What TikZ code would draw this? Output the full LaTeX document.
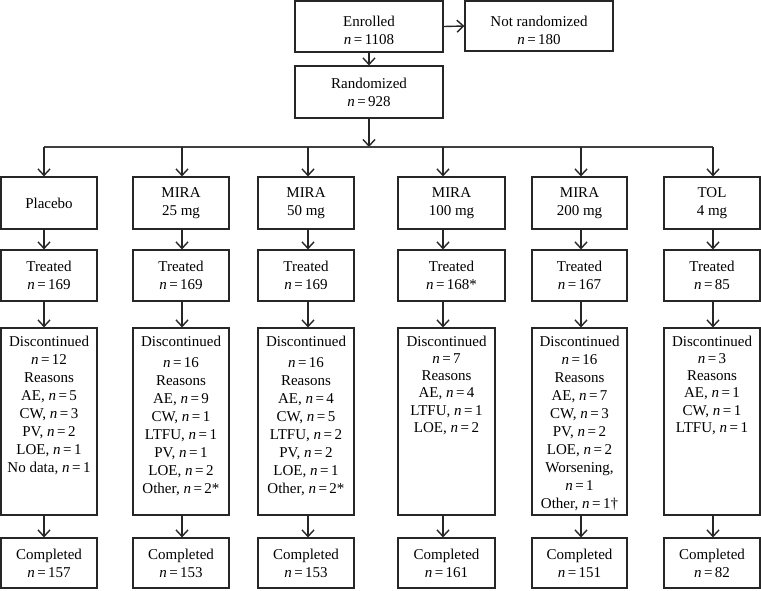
\documentclass[tikz,border=0pt]{standalone}
\usepackage{fontspec}
\setmainfont{Liberation Serif}
\usetikzlibrary{arrows.meta}
\newcommand{\nn}{\textit{n}\,=\,}
\begin{document}
\begin{tikzpicture}[x=1pt,y=-1pt,
  box/.style={draw=black!85, line width=1.1pt, inner sep=0pt, align=center,
    font=\fontsize{15}{18}\selectfont},
  txt/.style={inner sep=0pt, align=center, anchor=north},
  arr/.style={draw=black!85, line width=1.4pt, -{Straight Barb[length=6.5pt,width=12pt,line width=1.4pt]}},
  ln/.style={draw=black!75, line width=1.4pt}]
\useasboundingbox (0,0) rectangle (761,590);

% top
\node[box, minimum width=148pt, minimum height=51pt] (enr) at (369,26.5) {};
\node[box, minimum width=148pt, minimum height=50pt] (notr) at (539,26) {};
\node[txt, anchor=center, font=\fontsize{15}{18}\selectfont] (enrt) at ([yshift=-4pt]enr.center) {Enrolled\\\nn 1108};
\node[txt, anchor=center, font=\fontsize{15}{18}\selectfont] (notrt) at ([yshift=-4pt]notr.center) {Not randomized\\\nn 180};
\node[box, minimum width=148pt, minimum height=52pt] (rand) at (369,92) {Randomized\\\nn 928};
\draw[arr] (enr.east) -- (notr.west);
\draw[arr] (enr.south) -- (rand.north);

% column coordinates
\coordinate (cP) at (44,147);
\coordinate (c25) at (182,147);
\coordinate (c50) at (308,147);
\coordinate (c100) at (443,147);
\coordinate (c200) at (581,147);
\coordinate (cT) at (713,147);
\coordinate (hl) at (369,147);

\draw[arr] (rand.south) -- (hl);
\draw[ln] (cP) -- (cT);

% row 1
\node[box, minimum width=96pt, minimum height=52pt] (p1) at (49,203) {Placebo};
\node[box, minimum width=96pt, minimum height=52pt] (a1) at (181,203) {MIRA\\25 mg};
\node[box, minimum width=96pt, minimum height=52pt] (b1) at (306,203) {MIRA\\50 mg};
\node[box, minimum width=107pt, minimum height=52pt] (c1) at (451.5,203) {MIRA\\100 mg};
\node[box, minimum width=95pt, minimum height=52pt] (d1) at (579.5,203) {MIRA\\200 mg};
\node[box, minimum width=96pt, minimum height=52pt] (t1) at (712,203) {TOL\\4 mg};

% row 2
\node[box, minimum width=96pt, minimum height=51pt] (p2) at (49,275.5) {Treated\\\nn 169};
\node[box, minimum width=96pt, minimum height=51pt] (a2) at (181,275.5) {Treated\\\nn 169};
\node[box, minimum width=96pt, minimum height=51pt] (b2) at (306,275.5) {Treated\\\nn 169};
\node[box, minimum width=107pt, minimum height=51pt] (c2) at (451.5,275.5) {Treated\\\nn 168*};
\node[box, minimum width=95pt, minimum height=51pt] (d2) at (579.5,275.5) {Treated\\\nn 167};
\node[box, minimum width=96pt, minimum height=51pt] (t2) at (712,275.5) {Treated\\\nn 85};

% row 3
\node[box, minimum width=96pt, minimum height=187pt] (p3) at (49,421.5) {};
\node[box, minimum width=96pt, minimum height=187pt] (a3) at (181,421.5) {};
\node[box, minimum width=96pt, minimum height=187pt] (b3) at (306,421.5) {};
\node[box, minimum width=97pt, minimum height=187pt] (c3) at (446.5,421.5) {};
\node[box, minimum width=95pt, minimum height=187pt] (d3) at (579.5,421.5) {};
\node[box, minimum width=96pt, minimum height=187pt] (t3) at (712,421.5) {};

\begin{scope}[font=\fontsize{15}{18}\selectfont]
\node[txt] (p3t) at ([yshift=-8pt]p3.north) {Discontinued\\\nn 12\\Reasons\\AE, \nn 5\\CW, \nn 3\\PV, \nn 2\\LOE, \nn 1\\No data, \nn 1};
\node[txt] (a3t) at ([yshift=-8pt]a3.north) {Discontinued\\[3pt]\nn 16\\Reasons\\AE, \nn 9\\CW, \nn 1\\LTFU, \nn 1\\PV, \nn 1\\LOE, \nn 2\\Other, \nn 2*};
\node[txt] (b3t) at ([yshift=-8pt]b3.north) {Discontinued\\[3pt]\nn 16\\Reasons\\AE, \nn 4\\CW, \nn 5\\LTFU, \nn 2\\PV, \nn 2\\LOE, \nn 1\\Other, \nn 2*};
\node[txt] (d3t) at ([yshift=-8pt]d3.north) {Discontinued\\\nn 16\\Reasons\\AE, \nn 7\\CW, \nn 3\\PV, \nn 2\\LOE, \nn 2\\Worsening,\\\nn 1\\Other, \nn 1\textdagger};
\end{scope}
\begin{scope}[font=\fontsize{15}{17.3}\selectfont]
\node[txt] (c3t) at ([yshift=-8pt]c3.north) {Discontinued\\\nn 7\\Reasons\\AE, \nn 4\\LTFU, \nn 1\\LOE, \nn 2};
\node[txt] (t3t) at ([yshift=-8pt]t3.north) {Discontinued\\\nn 3\\Reasons\\AE, \nn 1\\CW, \nn 1\\LTFU, \nn 1};
\end{scope}

% row 4
\node[box, minimum width=96pt, minimum height=50pt] (p4) at (49,563) {Completed\\\nn 157};
\node[box, minimum width=96pt, minimum height=50pt] (a4) at (181,563) {Completed\\\nn 153};
\node[box, minimum width=96pt, minimum height=50pt] (b4) at (306,563) {Completed\\\nn 153};
\node[box, minimum width=97pt, minimum height=50pt] (c4) at (446.5,563) {Completed\\\nn 161};
\node[box, minimum width=95pt, minimum height=50pt] (d4) at (579.5,563) {Completed\\\nn 151};
\node[box, minimum width=96pt, minimum height=50pt] (t4) at (712,563) {Completed\\\nn 82};

% arrows
\foreach \c/\a/\b/\d/\e in {cP/p1/p2/p3/p4, c25/a1/a2/a3/a4, c50/b1/b2/b3/b4, c100/c1/c2/c3/c4, c200/d1/d2/d3/d4, cT/t1/t2/t3/t4}{
  \draw[arr] (\c) -- (\a.north -| \c);
  \draw[arr] (\a.south -| \c) -- (\b.north -| \c);
  \draw[arr] (\b.south -| \c) -- (\d.north -| \c);
  \draw[arr] (\d.south -| \c) -- (\e.north -| \c);
}
\end{tikzpicture}
\end{document}
